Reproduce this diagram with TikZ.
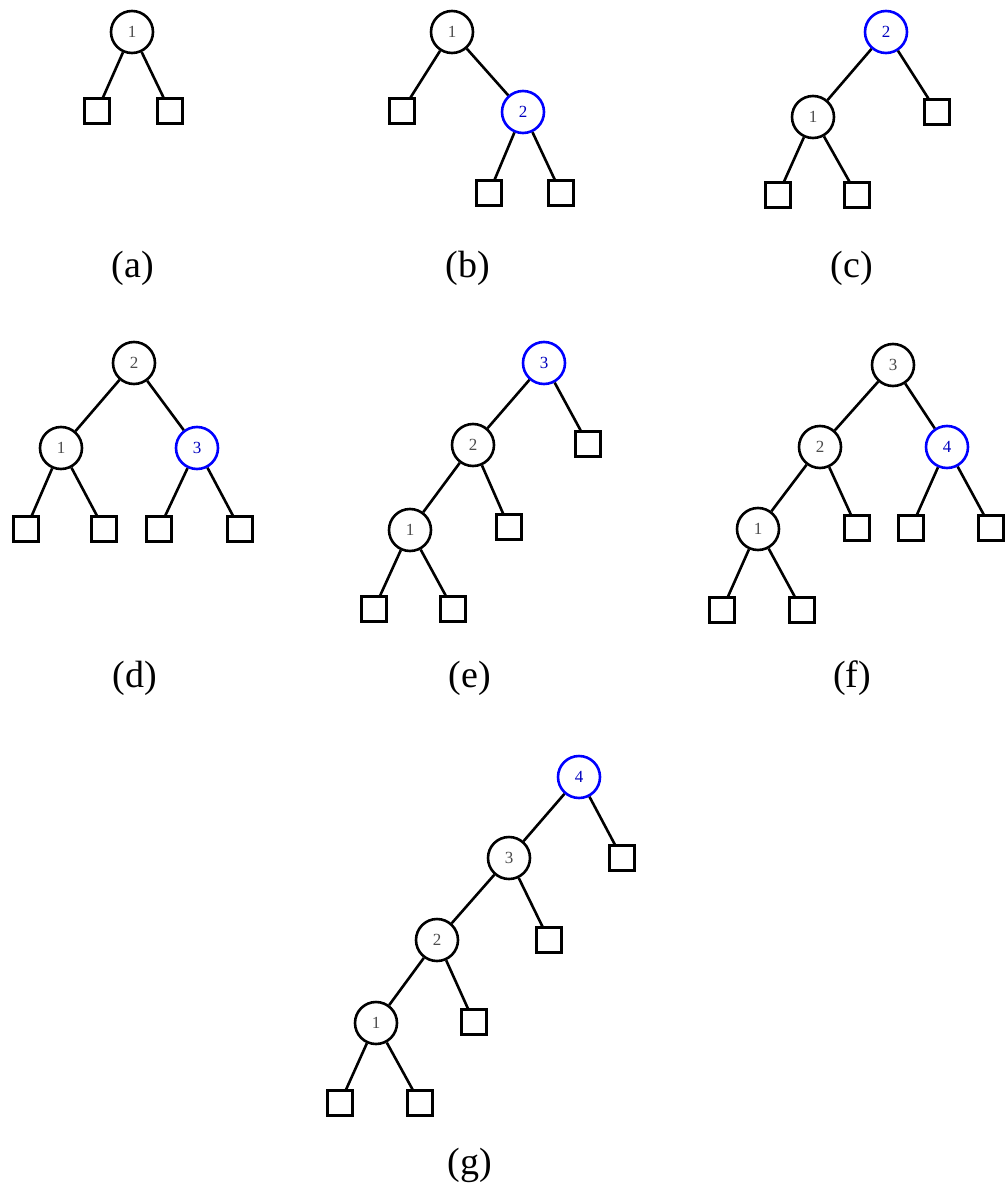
\documentclass[tikz,border=0pt]{standalone}
\usepackage{fontspec}
\setmainfont{Liberation Serif}
\begin{document}
\begin{tikzpicture}[x=1pt,y=-1pt,
  inode/.style={circle, draw=black, line width=2.6pt, minimum size=42pt, inner sep=0pt, text=black!70, font=\fontsize{17}{17}\selectfont},
  newnode/.style={inode, draw=blue, text=blue!75!black},
  leaf/.style={rectangle, draw=black, line width=2.6pt, minimum size=24.5pt, inner sep=0pt},
  sublabel/.style={font=\fontsize{38}{42}\selectfont},
  link/.style={line width=2.6pt}]
\useasboundingbox (0,0) rectangle (1005,1198);
\fill[white] (0,0) rectangle (1005,1198);
% (a)
\node[inode] (a1) at (132,32) {1};
\node[leaf] (aL) at (97,111) {};
\node[leaf] (aR) at (170,111) {};
\draw[link] (a1) -- (aL); \draw[link] (a1) -- (aR);
\node[sublabel] (ca) at (133,268) {(a)};
% (b)
\node[inode] (b1) at (452,32) {1};
\node[newnode] (b2) at (523,112) {2};
\node[leaf] (bL) at (402,111) {};
\node[leaf] (b2L) at (489,193) {};
\node[leaf] (b2R) at (561,193) {};
\draw[link] (b1) -- (bL); \draw[link] (b1) -- (b2);
\draw[link] (b2) -- (b2L); \draw[link] (b2) -- (b2R);
\node[sublabel] (cb) at (468,268) {(b)};
% (c)
\node[newnode] (c2) at (886,32) {2};
\node[inode] (c1) at (813,117) {1};
\node[leaf] (cR) at (937,112) {};
\node[leaf] (c1L) at (778,195) {};
\node[leaf] (c1R) at (857,195) {};
\draw[link] (c2) -- (c1); \draw[link] (c2) -- (cR);
\draw[link] (c1) -- (c1L); \draw[link] (c1) -- (c1R);
\node[sublabel] (cc) at (852,268) {(c)};
% (d)
\node[inode] (d2) at (134,363) {2};
\node[inode] (d1) at (61,448) {1};
\node[newnode] (d3) at (197,448) {3};
\node[leaf] (d1L) at (26,529) {};
\node[leaf] (d1R) at (104,529) {};
\node[leaf] (d3L) at (159,529) {};
\node[leaf] (d3R) at (240,529) {};
\draw[link] (d2) -- (d1); \draw[link] (d2) -- (d3);
\draw[link] (d1) -- (d1L); \draw[link] (d1) -- (d1R);
\draw[link] (d3) -- (d3L); \draw[link] (d3) -- (d3R);
\node[sublabel] (cd) at (135,678) {(d)};
% (e)
\node[newnode] (e3) at (544,363) {3};
\node[inode] (e2) at (473,445) {2};
\node[leaf] (e3R) at (588,444) {};
\node[inode] (e1) at (410,530) {1};
\node[leaf] (e2R) at (509,527) {};
\node[leaf] (e1L) at (374,609) {};
\node[leaf] (e1R) at (453,609) {};
\draw[link] (e3) -- (e2); \draw[link] (e3) -- (e3R);
\draw[link] (e2) -- (e1); \draw[link] (e2) -- (e2R);
\draw[link] (e1) -- (e1L); \draw[link] (e1) -- (e1R);
\node[sublabel] (ce) at (470,678) {(e)};
% (f)
\node[inode] (f3) at (893,365) {3};
\node[inode] (f2) at (820,447) {2};
\node[newnode] (f4) at (947,447) {4};
\node[inode] (f1) at (758,529) {1};
\node[leaf] (f2R) at (857,528) {};
\node[leaf] (f4L) at (911,528) {};
\node[leaf] (f4R) at (991,528) {};
\node[leaf] (f1L) at (722,610) {};
\node[leaf] (f1R) at (802,610) {};
\draw[link] (f3) -- (f2); \draw[link] (f3) -- (f4);
\draw[link] (f2) -- (f1); \draw[link] (f2) -- (f2R);
\draw[link] (f4) -- (f4L); \draw[link] (f4) -- (f4R);
\draw[link] (f1) -- (f1L); \draw[link] (f1) -- (f1R);
\node[sublabel] (cf) at (852,678) {(f)};
% (g)
\node[newnode] (g4) at (579,777) {4};
\node[inode] (g3) at (509,858) {3};
\node[leaf] (g4R) at (622,858) {};
\node[inode] (g2) at (437,940) {2};
\node[leaf] (g3R) at (549,940) {};
\node[inode] (g1) at (376,1023) {1};
\node[leaf] (g2R) at (474,1022) {};
\node[leaf] (g1L) at (340,1103) {};
\node[leaf] (g1R) at (420,1103) {};
\draw[link] (g4) -- (g3); \draw[link] (g4) -- (g4R);
\draw[link] (g3) -- (g2); \draw[link] (g3) -- (g3R);
\draw[link] (g2) -- (g1); \draw[link] (g2) -- (g2R);
\draw[link] (g1) -- (g1L); \draw[link] (g1) -- (g1R);
\node[sublabel] (cg) at (470,1165) {(g)};
\end{tikzpicture}
\end{document}
